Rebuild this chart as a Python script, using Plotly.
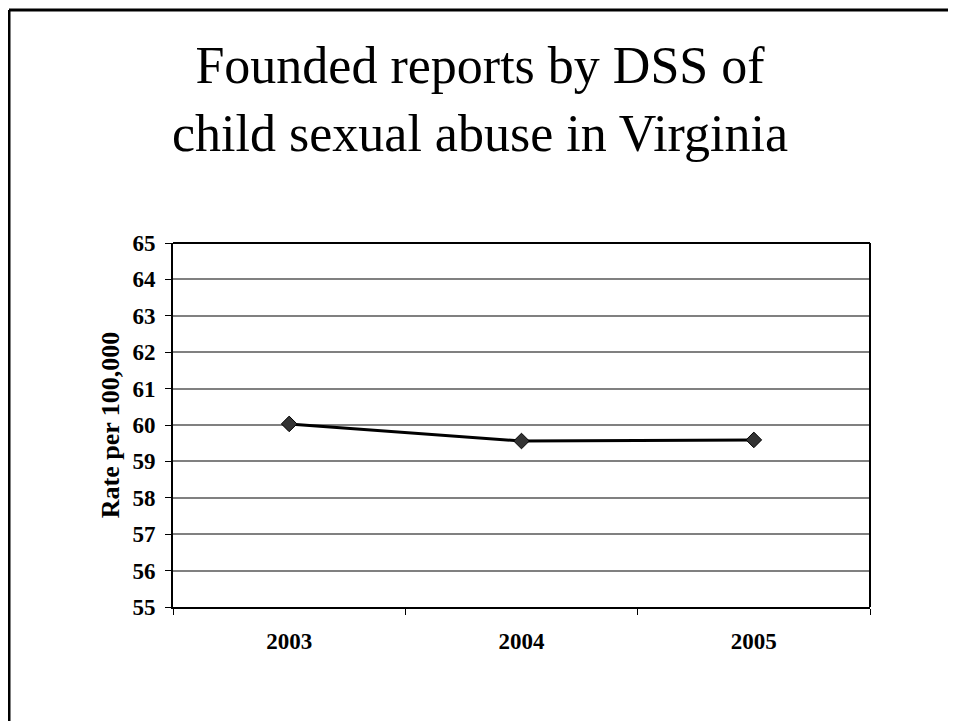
import plotly.graph_objects as go

# Data
years = ["2003", "2004", "2005"]
rates = [60.03, 59.56, 59.59]
y_ticks = list(range(55, 66))

# The page adds an 8px body margin, so the figure is drawn 8px smaller
OFF = 8
W, H = 956 - OFF, 721 - OFF
L, R, T, B = 173 - OFF, 870 - OFF, 243 - OFF, 607 - OFF


def px_x(px):
    return (px - L) / (R - L)


def px_y(py):
    return (B - py) / (B - T)


fig = go.Figure()
fig.add_trace(
    go.Scatter(
        x=years,
        y=rates,
        mode="lines+markers",
        line=dict(color="black", width=3),
        marker=dict(symbol="diamond", size=12, color="#333333",
                    line=dict(color="black", width=1)),
        showlegend=False,
    )
)

# Slide border (left and top edges visible)
border = dict(color="black", width=3)
fig.add_shape(type="line", xref="paper", yref="paper",
              x0=px_x(1), y0=px_y(2), x1=px_x(1), y1=px_y(730), line=border)
fig.add_shape(type="line", xref="paper", yref="paper",
              x0=px_x(1), y0=px_y(2), x1=px_x(965), y1=px_y(2), line=border)

tick_font = dict(family="Liberation Serif", size=23, color="black", weight="bold")

fig.update_xaxes(
    type="category",
    tickson="boundaries",
    ticks="outside",
    ticklen=6,
    tickcolor="black",
    showline=True,
    linecolor="black",
    linewidth=2,
    showgrid=False,
    range=[-0.5, 2.5],
    ticklabelstandoff=12,
    tickfont=tick_font,
)
fig.update_yaxes(
    range=[55, 65],
    tickvals=y_ticks,
    ticks="outside",
    ticklen=6,
    tickcolor="black",
    showline=True,
    linecolor="black",
    linewidth=2,
    showgrid=True,
    gridcolor="#808080",
    gridwidth=1.5,
    zeroline=False,
    ticklabelstandoff=5,
    tickfont=tick_font,
    title=dict(text="Rate per 100,000", standoff=5,
               font=dict(family="Liberation Serif", size=26, color="black", weight="bold")),
)

# Plot-area frame on top and right
fig.add_shape(type="line", xref="paper", yref="paper", x0=0, y0=1, x1=1, y1=1,
              line=dict(color="black", width=2))
fig.add_shape(type="line", xref="paper", yref="paper", x0=1, y0=0, x1=1, y1=1,
              line=dict(color="black", width=2))

fig.update_layout(
    width=W,
    height=H,
    margin=dict(l=L, r=W - R, t=T, b=H - B),
    paper_bgcolor="white",
    plot_bgcolor="white",
    title=dict(
        text="Founded reports by DSS of<br>child sexual abuse in Virginia",
        x=(480 - OFF) / W,
        xref="container",
        y=1 - (83 - OFF) / H,
        yref="container",
        xanchor="center",
        yanchor="middle",
        font=dict(family="Liberation Serif", size=52, color="black"),
    ),
)

fig.write_html("out.html")
